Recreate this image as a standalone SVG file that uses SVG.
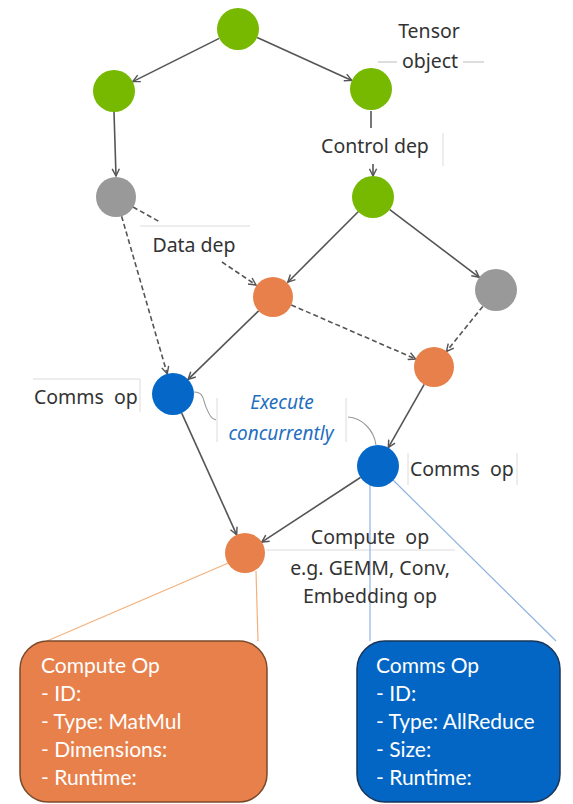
<svg xmlns="http://www.w3.org/2000/svg" width="573" height="804" viewBox="0 0 573 804">
  <defs>
    <marker id="arrow" viewBox="0 0 10 10" refX="9" refY="5" markerWidth="9" markerHeight="9" markerUnits="userSpaceOnUse" orient="auto">
      <path d="M1,1 L9,5 L1,9" fill="none" stroke="#555" stroke-width="1.6"/>
    </marker>
  </defs>
  <style>
    .edge { stroke: #555; stroke-width: 1.6; fill: none; }
    .dash { stroke-dasharray: 5 3; }
    .faint { stroke: #dcdcdc; stroke-width: 1; fill: none; }
    .curve { stroke: #9a9a9a; stroke-width: 1.1; fill: none; }
    .green { fill: #76b900; }
    .gray { fill: #999999; }
    .orange { fill: #e8804b; }
    .blue { fill: #0568c8; }
    .lbl { font-family: "Noto Sans", "Open Sans", sans-serif; font-size: 19.5px; fill: #333; }
    .exec { font-family: "Noto Sans", "Open Sans", sans-serif; font-size: 19px; font-style: italic; fill: #1f6fc0; text-anchor: middle; }
    .box { font-family: "Lato", "Noto Sans", sans-serif; font-size: 21px; fill: #ffffff; }
  </style>

  <!-- label guide lines -->
  <g id="guides">
    <line class="faint" x1="378" y1="62" x2="397" y2="62" style="stroke:#bbb"/>
    <line class="faint" x1="463" y1="62" x2="484" y2="62" style="stroke:#bbb"/>
    <line class="faint" x1="443" y1="133" x2="443" y2="166"/>
    <line class="faint" x1="140" y1="226" x2="250" y2="226"/>
    <line class="faint" x1="33" y1="379" x2="140" y2="379"/>
    <line class="faint" x1="140" y1="379" x2="140" y2="412"/>
    <line class="faint" x1="217" y1="398" x2="217" y2="442"/>
    <line class="faint" x1="346" y1="398" x2="346" y2="442"/>
    <line class="faint" x1="408" y1="453" x2="408" y2="485"/>
    <line class="faint" x1="517" y1="453" x2="517" y2="485"/>
    <line class="faint" x1="266" y1="550" x2="455" y2="550"/>
  </g>

  <!-- detail call-out lines -->
  <g id="callouts">
    <line x1="233" y1="561" x2="40" y2="644" stroke="#f4b07a" stroke-width="1.2"/>
    <line x1="256" y1="571" x2="258" y2="641" stroke="#f4b07a" stroke-width="1.2"/>
    <line x1="370" y1="485" x2="370" y2="641" stroke="#8fb3e0" stroke-width="1.2"/>
    <line x1="391" y1="478" x2="556" y2="641" stroke="#8fb3e0" stroke-width="1.2"/>
    <path class="curve" d="M194,392 C204,392 203,400 206,407 C209,414 211,419 216,420"/>
    <path class="curve" d="M376,445 C374,430 362,418 348,417"/>
  </g>

  <!-- connectors -->
  <g id="connectors">
    <line class="edge" x1="219.2" y1="38.4" x2="132.8" y2="81.6" marker-end="url(#arrow)"/>
    <line class="edge" x1="257.2" y1="37.6" x2="351.8" y2="80.4" marker-end="url(#arrow)"/>
    <line class="edge" x1="114" y1="112" x2="116" y2="176" marker-end="url(#arrow)"/>
    <line class="edge" x1="371" y1="111" x2="371" y2="128"/>
    <line class="edge" x1="373" y1="164" x2="373" y2="176" marker-end="url(#arrow)"/>
    <line class="edge dash" x1="121.6" y1="216.2" x2="167.2" y2="373.8" marker-end="url(#arrow)"/>
    <line class="edge dash" x1="133" y1="207" x2="160" y2="222"/>
    <line class="edge dash" x1="222" y1="262" x2="256" y2="285" marker-end="url(#arrow)"/>
    <line class="edge" x1="358.2" y1="211.8" x2="287.8" y2="282.2" marker-end="url(#arrow)"/>
    <line class="edge" x1="389.8" y1="209.7" x2="479.2" y2="277.3" marker-end="url(#arrow)"/>
    <line class="edge" x1="258.6" y1="310.9" x2="188.1" y2="379.4" marker-end="url(#arrow)"/>
    <line class="edge dash" x1="291.3" y1="305" x2="415.7" y2="359" marker-end="url(#arrow)"/>
    <line class="edge dash" x1="482.8" y1="306.4" x2="446.5" y2="351.4" marker-end="url(#arrow)"/>
    <line class="edge" x1="424.2" y1="384.4" x2="388.3" y2="447.7" marker-end="url(#arrow)"/>
    <line class="edge" x1="181.7" y1="413.1" x2="236.7" y2="534.8" marker-end="url(#arrow)"/>
    <line class="edge" x1="360.4" y1="477.5" x2="261.7" y2="542.1" marker-end="url(#arrow)"/>
  </g>

  <!-- graph nodes -->
  <g id="n-top"><circle class="green" cx="238" cy="29" r="21"/></g>
  <g id="n-green-left"><circle class="green" cx="114" cy="91" r="21"/></g>
  <g id="n-green-right"><circle class="green" cx="371" cy="89" r="21"/></g>
  <g id="n-gray-left"><circle class="gray" cx="116" cy="197" r="20"/></g>
  <g id="n-green-mid"><circle class="green" cx="373" cy="197" r="21"/></g>
  <g id="n-orange-1"><circle class="orange" cx="273" cy="297" r="20"/></g>
  <g id="n-gray-right"><circle class="gray" cx="496" cy="290" r="21"/></g>
  <g id="n-orange-2"><circle class="orange" cx="434" cy="367" r="20"/></g>
  <g id="n-blue-1"><circle class="blue" cx="173" cy="394" r="21"/></g>
  <g id="n-blue-2"><circle class="blue" cx="378" cy="466" r="21"/></g>
  <g id="n-orange-3"><circle class="orange" cx="245" cy="553" r="20"/></g>

  <!-- labels -->
  <g id="labels">
    <text class="lbl" x="429" y="38" text-anchor="middle">Tensor</text>
    <text class="lbl" x="430" y="68" text-anchor="middle">object</text>
    <text class="lbl" x="375" y="153" text-anchor="middle">Control dep</text>
    <text class="lbl" x="194" y="252" text-anchor="middle">Data dep</text>
    <text class="lbl" x="34" y="404" style="word-spacing:5px">Comms op</text>
    <text class="exec" x="282" y="409">Execute</text>
    <text class="exec" x="281" y="440">concurrently</text>
    <text class="lbl" x="410" y="476" style="word-spacing:5px">Comms op</text>
    <text class="lbl" x="370" y="544" text-anchor="middle" style="word-spacing:5px">Compute op</text>
    <text class="lbl" x="370" y="575" text-anchor="middle">e.g. GEMM, Conv,</text>
    <text class="lbl" x="370" y="603" text-anchor="middle">Embedding op</text>
  </g>

  <!-- detail boxes -->
  <g id="compute-box">
    <rect x="20" y="641" width="247" height="161" rx="28" fill="#e8804b" stroke="#7a4a2a" stroke-width="1.5"/>
    <text class="box" x="41" y="673">Compute Op</text>
    <text class="box" x="41" y="701">- ID:</text>
    <text class="box" x="41" y="729">- Type: MatMul</text>
    <text class="box" x="41" y="757">- Dimensions:</text>
    <text class="box" x="41" y="785">- Runtime:</text>
  </g>
  <g id="comms-box">
    <rect x="357" y="641" width="203" height="161" rx="28" fill="#0366c4" stroke="#1a3558" stroke-width="1.5"/>
    <text class="box" x="376" y="673">Comms Op</text>
    <text class="box" x="376" y="701">- ID:</text>
    <text class="box" x="376" y="729">- Type: AllReduce</text>
    <text class="box" x="376" y="757">- Size:</text>
    <text class="box" x="376" y="785">- Runtime:</text>
  </g>
</svg>
